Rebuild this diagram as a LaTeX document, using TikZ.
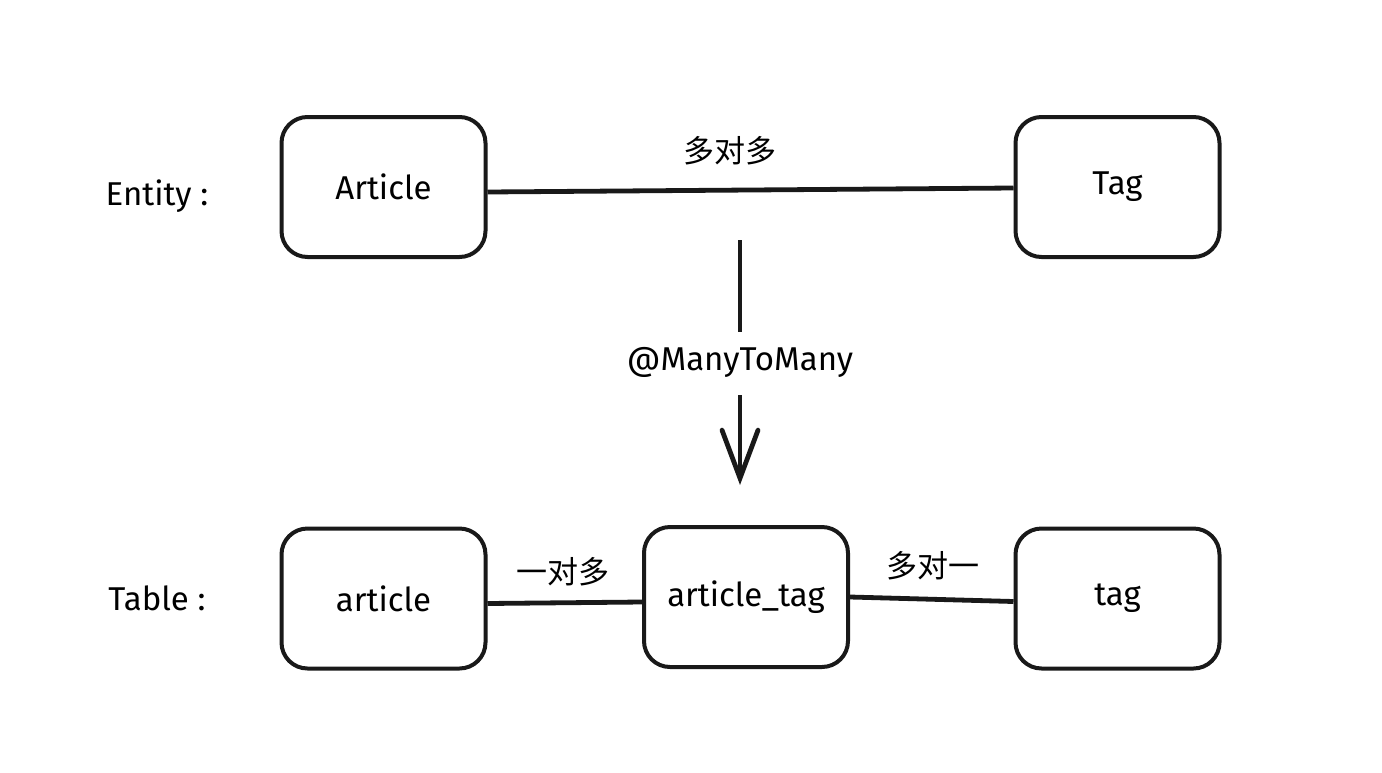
\documentclass[tikz,border=0pt]{standalone}
\usepackage{fontspec}
\setmainfont{Fira Sans}
\newfontfamily\cjk{Noto Sans CJK SC}
\usetikzlibrary{arrows.meta,calc}
\tikzset{
  box/.style={draw=black!90, line width=2pt, rounded corners=13pt, minimum width=102pt, minimum height=70pt, inner sep=0pt, font=\fontsize{16.5}{19}\selectfont},
  lbl/.style={font=\fontsize{16.5}{19}\selectfont, inner sep=1pt},
  cn/.style={font=\cjk\fontsize{15.5}{18}\selectfont, inner sep=1pt},
  conn/.style={draw=black!90, line width=2.4pt},
}
\begin{document}
\begin{tikzpicture}[x=0.5pt,y=-0.5pt]
\useasboundingbox[fill=white] (0,0) rectangle (1382,772);
\node[box] (Article) at (383.5,187) {Article};
\node[box] (Tag) at (1117.5,187) {Tag};
\node[box] (article) at (383.5,598.5) {article};
\node[box] (atag) at (746,597) {article\_tag};
\node[box] (tag) at (1117.5,598.5) {tag};
\node[lbl] (entity) at (157,196) {Entity :};
\node[lbl] (table) at (157,598) {Table :};
\node[cn] (mm) at (730,151) {多对多};
\node[cn] (om) at (563,572) {一对多};
\node[cn] (mo) at (933,566) {多对一};
\node[lbl] (mtm) at (740,362) {@ManyToMany};
\coordinate (a1) at (740,240);
\coordinate (a2) at (740,332);
\coordinate (a3) at (740,395);
\coordinate (a4) at (740,485);
\draw[conn] ([yshift=-2.5pt]Article.east) -- ([yshift=-0.5pt]Tag.west);
\draw[conn] ([yshift=-2.5pt]article.east) -- ([yshift=-2.5pt]atag.west);
\draw[conn] ([yshift=0pt]atag.east) -- ([yshift=-1.5pt]tag.west);
\draw[conn] (a1) -- (a2);
\draw[conn, -{Straight Barb[length=24pt,width=18pt,line cap=round]}] (a3) -- (a4);
\end{tikzpicture}
\end{document}
